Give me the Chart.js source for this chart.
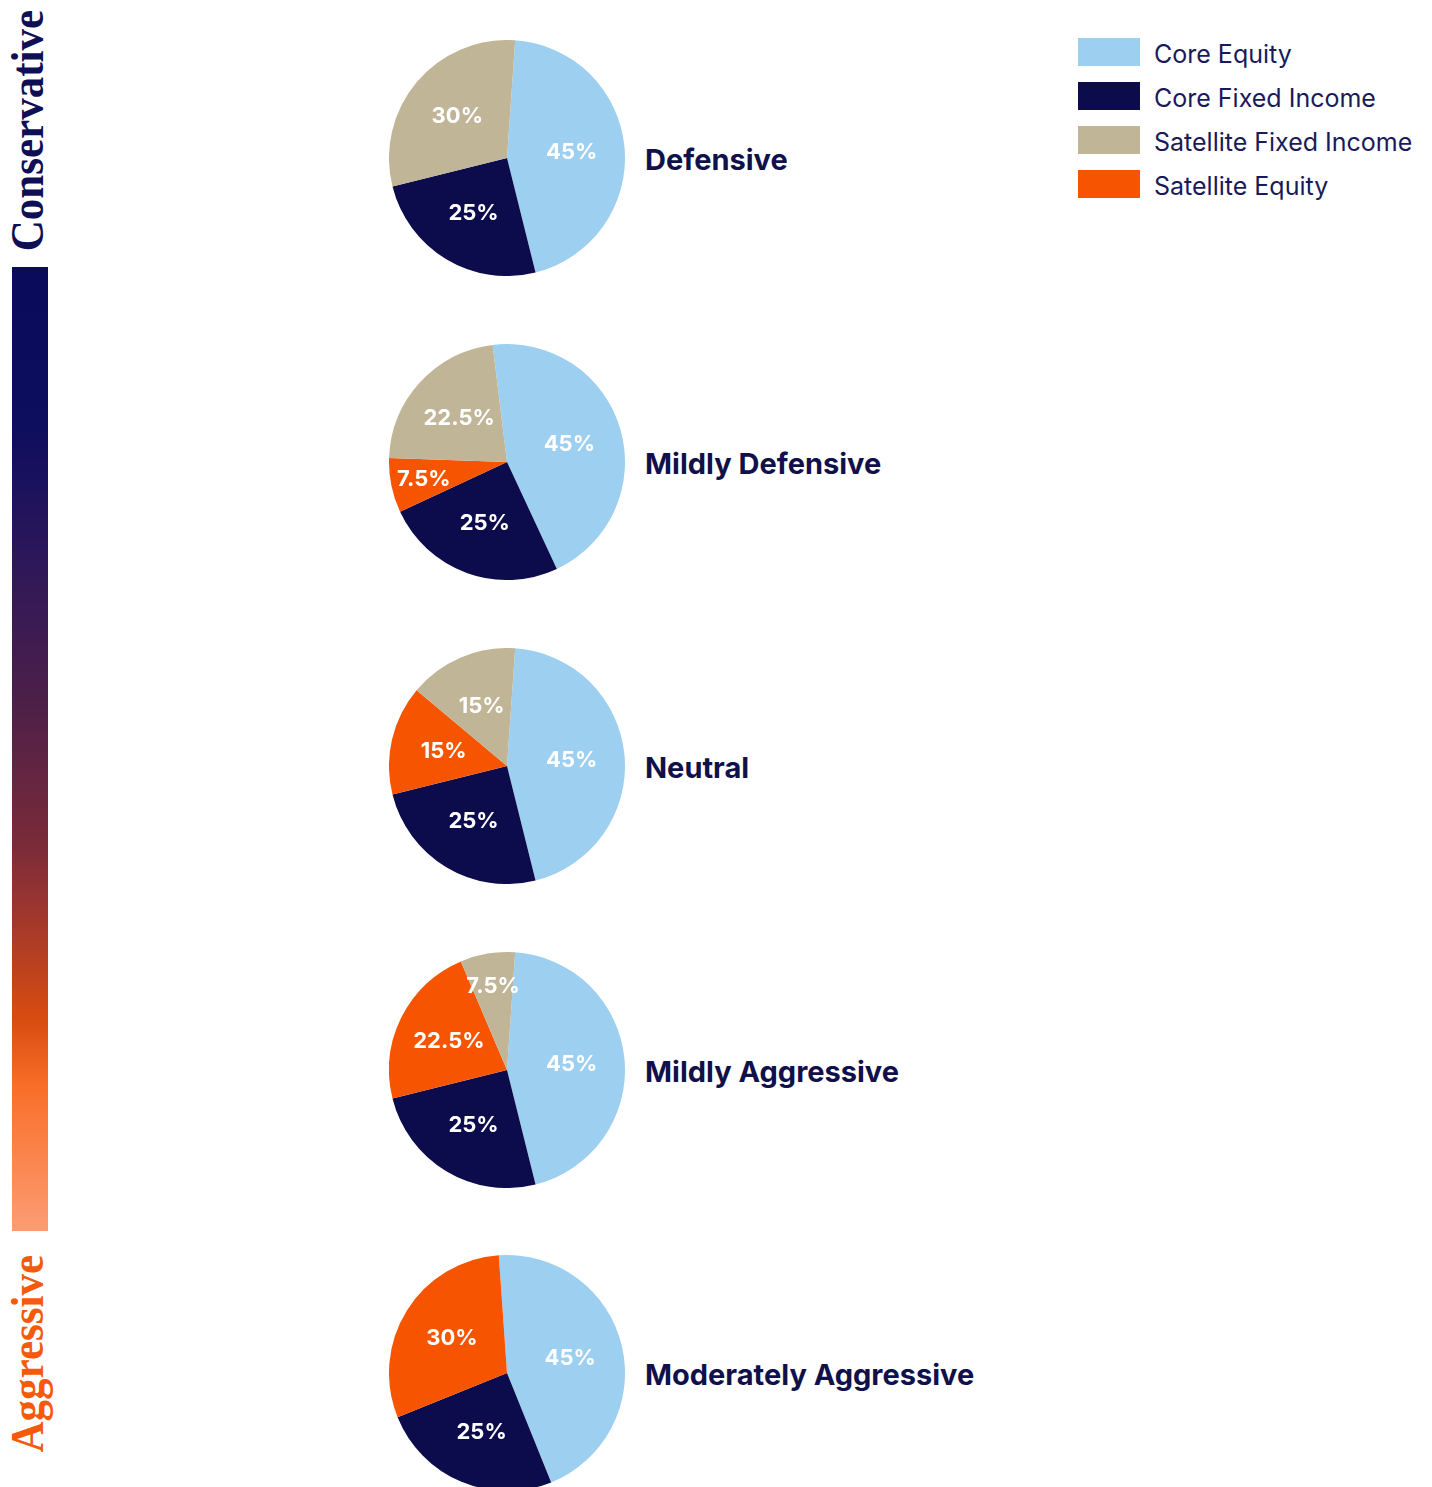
<!DOCTYPE html>
<html>

<head>
  <title>Portfolio Allocation Pies</title>
  <script src="https://cdn.jsdelivr.net/npm/chart.js"></script>
  <style>
    body { margin: 0; background: #fff; }
    #page { position: relative; width: 1432px; height: 1487px; overflow: hidden; font-family: Inter, sans-serif; }
    .bar { position: absolute; left: 12px; top: 267px; width: 36px; height: 964px;
      background: linear-gradient(to bottom, #0b0b5c 0%, #0e0e5e 17%, #2c175a 30%, #4f2048 46%, #7a2b38 60%, #993530 66%, #d84c10 78%, #f96e28 85%, #fc9c74 100%); }
    .side { position: absolute; writing-mode: vertical-rl; transform: rotate(180deg) scaleX(1.09);
      font-family: "Liberation Serif", serif; font-weight: bold; font-size: 43px; line-height: 36px; white-space: nowrap; }
    .pie { position: absolute; }
    .title { position: absolute; font-weight: 700; font-size: 29px; color: #10104a; white-space: nowrap; line-height: 34px; }
    .legend-item { position: absolute; left: 1078px; height: 28px; }
    .legend-item span.sw { position: absolute; left: 0; top: 0; width: 62px; height: 28px; }
    .legend-item span.tx { position: absolute; left: 76px; top: 0px; font-size: 25px; line-height: 32px; color: #1a1a5a; white-space: nowrap; }
  </style>
</head>

<body>
  <div id="page">
    <div class="bar"></div>
    <div class="side" style="left:10px; top:10px; color:#0f0f55;">Conservative</div>
    <div class="side" style="left:10px; top:1255px; color:#f55a0a;">Aggressive</div>
    <div id="legend"></div>
  </div>

  <script>
    // data
    const categories = ["Core Equity", "Core Fixed Income", "Satellite Fixed Income", "Satellite Equity"];
    const colors = ["#9dcff0", "#0c0c4c", "#c0b597", "#f75400"];
    const portfolios = ["Defensive", "Mildly Defensive", "Neutral", "Mildly Aggressive", "Moderately Aggressive"];
    const coreEquity = [45, 45, 45, 45, 45];
    const coreFixedIncome = [25, 25, 25, 25, 25];
    const satelliteFixedIncome = [30, 22.5, 15, 7.5, 0];
    const satelliteEquity = [0, 7.5, 15, 22.5, 30];
    // start angle of each pie, degrees from 12 o'clock
    const rotations = [4, -7, 4, 4, -4];

    // slices go clockwise: core equity, core fixed income, satellite equity, satellite fixed income
    const sliceOrder = [0, 1, 3, 2];
    const seriesByCat = [coreEquity, coreFixedIncome, satelliteFixedIncome, satelliteEquity];

    const page = document.getElementById('page');
    const legend = document.getElementById('legend');
    categories.forEach(function (name, i) {
      const item = document.createElement('div');
      item.className = 'legend-item';
      item.style.top = (38 + i * 44) + 'px';
      item.innerHTML = '<span class="sw" style="background:' + colors[i] + '"></span><span class="tx">' + name + '</span>';
      legend.appendChild(item);
    });

    // draws the % inside each slice, thin slices get pushed outward
    const sliceLabels = {
      id: 'sliceLabels',
      afterDatasetsDraw(chart) {
        const ctx = chart.ctx;
        const meta = chart.getDatasetMeta(0);
        const values = chart.data.datasets[0].data;
        ctx.save();
        ctx.fillStyle = '#ffffff';
        ctx.font = 'bold 22px Inter';
        ctx.textAlign = 'center';
        ctx.textBaseline = 'middle';
        meta.data.forEach(function (arc, i) {
          if (!values[i]) return;
          const mid = (arc.startAngle + arc.endAngle) / 2;
          const r = arc.outerRadius * (values[i] < 10 ? 0.72 : 0.55);
          ctx.fillText(values[i] + '%', arc.x + r * Math.cos(mid), arc.y + r * Math.sin(mid));
        });
        ctx.restore();
      }
    };

    const R = 118;
    const cx = 507;
    const centers = [158, 462, 766, 1070, 1373];

    portfolios.forEach(function (name, k) {
      const canvas = document.createElement('canvas');
      canvas.className = 'pie';
      canvas.width = 2 * R;
      canvas.height = 2 * R;
      canvas.style.left = (cx - R) + 'px';
      canvas.style.top = (centers[k] - R) + 'px';
      page.appendChild(canvas);

      const title = document.createElement('div');
      title.className = 'title';
      title.textContent = name;
      title.style.left = '645px';
      title.style.top = (centers[k] - 15) + 'px';
      page.appendChild(title);

      new Chart(canvas.getContext('2d'), {
        type: 'pie',
        data: {
          labels: sliceOrder.map(function (c) { return categories[c]; }),
          datasets: [{
            data: sliceOrder.map(function (c) { return seriesByCat[c][k]; }),
            backgroundColor: sliceOrder.map(function (c) { return colors[c]; }),
            borderWidth: 0,
          }]
        },
        options: {
          responsive: false,
          animation: false,
          rotation: rotations[k],
          layout: { padding: 0 },
          plugins: {
            legend: { display: false },
            tooltip: { enabled: false },
          }
        },
        plugins: [sliceLabels]
      });
    });
  </script>
</body>

</html>
